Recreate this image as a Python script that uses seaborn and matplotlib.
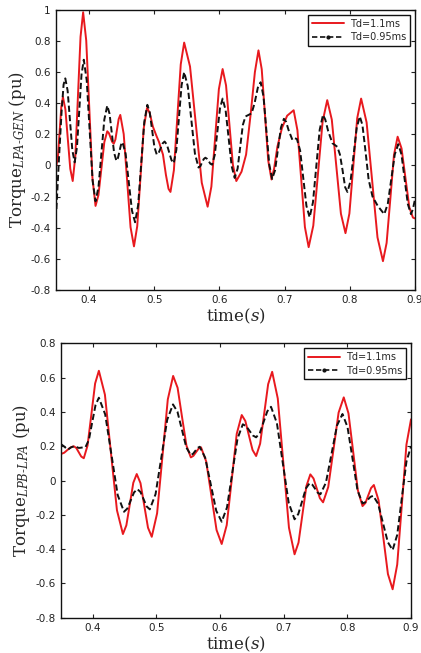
import numpy as np
import pandas as pd
import seaborn as sns
import matplotlib
matplotlib.use("Agg")
import matplotlib.pyplot as plt
from matplotlib.lines import Line2D
from matplotlib.ticker import FuncFormatter

# ---- data (time in s, torque in pu) ----
# upper panel: Torque LPA-GEN
top_red_t = [0.350, 0.3525, 0.355, 0.3575, 0.360, 0.36375, 0.3675, 0.37125, 0.375,
             0.379, 0.383, 0.387, 0.391, 0.39575, 0.4005, 0.40525, 0.410,
             0.4145, 0.419, 0.4235, 0.428, 0.4305, 0.433, 0.4355, 0.438,
             0.4405, 0.443, 0.4455, 0.448, 0.45325, 0.4585, 0.46375, 0.469,
             0.474, 0.479, 0.484, 0.489, 0.493, 0.498, 0.5035, 0.5075, 0.5135,
             0.518, 0.522, 0.525, 0.53025, 0.5355, 0.54075, 0.546,
             0.555, 0.564, 0.573, 0.582, 0.58775, 0.5935, 0.59925, 0.605,
             0.61025, 0.6155, 0.62075, 0.626, 0.634, 0.641, 0.648, 0.6545, 0.660,
             0.665, 0.670, 0.675, 0.680, 0.684, 0.689, 0.696, 0.704, 0.714,
             0.71975, 0.7255, 0.73125, 0.737, 0.7441, 0.7513, 0.7584, 0.7655,
             0.7725, 0.7795, 0.7865, 0.7935, 0.7995, 0.8055, 0.8115, 0.8175,
             0.8259, 0.8343, 0.8426, 0.851, 0.8566, 0.8623, 0.8679, 0.8735,
             0.8795, 0.8855, 0.8915, 0.897, 0.900]
top_red_v = [0.00, 0.064, 0.22, 0.376, 0.44, 0.361, 0.17, -0.021, -0.10,
             0.058, 0.4425, 0.827, 0.985, 0.803, 0.3625, -0.078, -0.26,
             -0.19, -0.02, 0.15, 0.22, 0.208, 0.18, 0.152, 0.14,
             0.167, 0.2325, 0.298, 0.325, 0.202, -0.0975, -0.397, -0.52,
             -0.39, -0.075, 0.24, 0.37, 0.34, 0.25, 0.19, 0.15, 0.07,
             -0.06, -0.15, -0.17, -0.03, 0.31, 0.65, 0.79,
             0.636, 0.2625, -0.111, -0.265, -0.136, 0.1775, 0.491, 0.62,
             0.515, 0.26, 0.005, -0.10, -0.04, 0.07, 0.33, 0.60, 0.74,
             0.619, 0.325, 0.031, -0.09, -0.02, 0.12, 0.24, 0.32, 0.355,
             0.227, -0.085, -0.396, -0.525, -0.387, -0.0525, 0.282, 0.42,
             0.295, -0.0075, -0.31, -0.435, -0.309, -0.0025, 0.304, 0.43,
             0.277, -0.0925, -0.462, -0.615, -0.498, -0.215, 0.068, 0.185,
             0.11, -0.08, -0.27, -0.335, -0.34]

top_blk_t = [0.350, 0.354, 0.358, 0.361, 0.3636, 0.3672, 0.3708, 0.3744, 0.378,
             0.3815, 0.385, 0.3885, 0.392, 0.3965, 0.401, 0.4055, 0.410,
             0.4145, 0.419, 0.4235, 0.428, 0.4315, 0.435, 0.4385, 0.442,
             0.4444, 0.4467, 0.449, 0.4514, 0.4562, 0.4611, 0.4659, 0.4707,
             0.4754, 0.4801, 0.4848, 0.4895, 0.4931, 0.4968, 0.5004, 0.504,
             0.507, 0.510, 0.513, 0.516, 0.5195, 0.523, 0.5265, 0.530,
             0.534, 0.538, 0.542, 0.546, 0.5515, 0.557, 0.5625, 0.568,
             0.571, 0.5733, 0.576, 0.5785, 0.581, 0.5837, 0.586, 0.5888,
             0.5929, 0.5969, 0.601, 0.605, 0.6096, 0.6143, 0.6189, 0.6235,
             0.628, 0.632, 0.636, 0.640, 0.6495, 0.654, 0.659, 0.6633,
             0.6677, 0.6722, 0.6766, 0.681, 0.6855, 0.690, 0.6945, 0.699,
             0.7025, 0.706, 0.712, 0.716, 0.719, 0.7239, 0.7288, 0.7336, 0.7385,
             0.7436, 0.7488, 0.7539, 0.759, 0.7625, 0.767, 0.7735, 0.781,
             0.785, 0.789, 0.793, 0.7965, 0.8013, 0.806, 0.8108, 0.8155,
             0.8195, 0.824, 0.829, 0.835, 0.843, 0.853, 0.8584, 0.8638, 0.8691,
             0.8745, 0.8794, 0.8843, 0.8891, 0.894, 0.897, 0.900]
top_blk_v = [-0.28, 0.05, 0.35, 0.52, 0.56, 0.481, 0.29, 0.099, 0.02,
             0.116, 0.35, 0.584, 0.68, 0.547, 0.225, -0.097, -0.23,
             -0.14, 0.0775, 0.295, 0.385, 0.333, 0.2075, 0.082, 0.03,
             0.048, 0.09, 0.132, 0.15, 0.075, -0.1075, -0.29, -0.365,
             -0.255, 0.0125, 0.28, 0.39, 0.343, 0.23, 0.117, 0.07,
             0.082, 0.112, 0.142, 0.154, 0.134, 0.0845, 0.035, 0.015,
             0.10, 0.3075, 0.515, 0.60, 0.51, 0.2935, 0.077, -0.013,
             -0.004, 0.019, 0.041, 0.05, 0.043, 0.028, 0.012, 0.005,
             0.067, 0.2175, 0.368, 0.43, 0.355, 0.175, -0.005, -0.08,
             -0.02, 0.12, 0.26, 0.315, 0.335, 0.40, 0.50, 0.535,
             0.444, 0.2245, 0.005, -0.086, -0.03, 0.107, 0.244, 0.30,
             0.28, 0.23, 0.165, 0.175, 0.17, 0.097, -0.0815, -0.26, -0.333,
             -0.237, -0.004, 0.229, 0.325, 0.295, 0.22, 0.143, 0.12,
             0.07, -0.03, -0.14, -0.17, -0.099, 0.0725, 0.244, 0.315,
             0.26, 0.10, -0.09, -0.20, -0.26, -0.313, -0.247, -0.088, 0.071,
             0.137, 0.071, -0.088, -0.247, -0.313, -0.28, -0.22]

# lower panel: Torque LPB-LPA
bot_red_t = [0.350, 0.355, 0.360, 0.365, 0.370, 0.374, 0.3779, 0.3818, 0.3858,
             0.3917, 0.3977, 0.4036, 0.4095, 0.419, 0.4284, 0.4379, 0.4473,
             0.4527, 0.4582, 0.4636, 0.469, 0.4749, 0.4808, 0.4867, 0.4926,
             0.501, 0.5094, 0.5178, 0.5262, 0.5332, 0.5401, 0.5471, 0.554,
             0.558, 0.562, 0.566, 0.570, 0.5781, 0.5863, 0.5944, 0.6025,
             0.6104, 0.6183, 0.6261, 0.634, 0.6397, 0.6453, 0.651, 0.6566,
             0.6629, 0.6692, 0.6755, 0.6818, 0.6906, 0.6994, 0.7082, 0.717,
             0.7232, 0.7294, 0.7356, 0.7418, 0.7468, 0.7518, 0.7568, 0.7618,
             0.7699, 0.7781, 0.7862, 0.7943, 0.8017, 0.8091, 0.8164, 0.8238,
             0.8283, 0.8327, 0.8372, 0.8416, 0.849, 0.8564, 0.8637, 0.8711,
             0.8783, 0.8856, 0.8928, 0.900]
bot_red_v = [0.155, 0.162, 0.178, 0.193, 0.20, 0.19, 0.165, 0.14, 0.13,
             0.204, 0.385, 0.566, 0.64, 0.501, 0.164, -0.173, -0.312,
             -0.261, -0.137, -0.013, 0.038, -0.015, -0.145, -0.275, -0.328,
             -0.191, 0.141, 0.473, 0.61, 0.541, 0.3725, 0.204, 0.135,
             0.144, 0.1645, 0.185, 0.194, 0.112, -0.088, -0.288, -0.37,
             -0.26, 0.006, 0.272, 0.382, 0.347, 0.2625, 0.178, 0.143,
             0.215, 0.3885, 0.562, 0.634, 0.479, 0.102, -0.275, -0.43,
             -0.362, -0.197, -0.032, 0.036, 0.012, -0.0455, -0.103, -0.127,
             -0.038, 0.179, 0.396, 0.485, 0.392, 0.168, -0.056, -0.149,
             -0.131, -0.0875, -0.044, -0.026, -0.115, -0.33, -0.545, -0.634,
             -0.49, -0.14, 0.21, 0.357]

bot_blk_t = [0.350, 0.3545, 0.3605, 0.3665, 0.3715, 0.378, 0.3885,
             0.3938, 0.399, 0.4043, 0.4095, 0.4194, 0.4293, 0.4391, 0.449,
             0.4543, 0.4595, 0.4648, 0.470, 0.4749, 0.4798, 0.4846, 0.4895,
             0.4986, 0.5078, 0.5169, 0.526, 0.533, 0.540, 0.547, 0.554,
             0.5575, 0.561, 0.5645, 0.568, 0.5766, 0.5853, 0.5939, 0.6025,
             0.6108, 0.6191, 0.6274, 0.6357, 0.6409, 0.6462, 0.6514, 0.6566,
             0.6625, 0.6683, 0.6742, 0.680, 0.6893, 0.6985, 0.7078, 0.717,
             0.7229, 0.7289, 0.7348, 0.7407, 0.7449, 0.7492, 0.7534, 0.7576,
             0.7663, 0.775, 0.7836, 0.7923, 0.8002, 0.8081, 0.8159, 0.8238,
             0.828, 0.8322, 0.8364, 0.8406, 0.8482, 0.8559, 0.8635, 0.8711,
             0.8783, 0.8856, 0.8928, 0.900]
bot_blk_v = [0.212, 0.20, 0.18, 0.195, 0.20, 0.19, 0.195,
             0.237, 0.339, 0.441, 0.483, 0.386, 0.1505, -0.085, -0.182,
             -0.163, -0.116, -0.069, -0.05, -0.067, -0.109, -0.151, -0.168,
             -0.079, 0.138, 0.355, 0.444, 0.401, 0.2965, 0.192, 0.149,
             0.156, 0.173, 0.19, 0.197, 0.133, -0.0215, -0.176, -0.24,
             -0.157, 0.044, 0.245, 0.328, 0.317, 0.29, 0.263, 0.252,
             0.278, 0.341, 0.404, 0.43, 0.334, 0.102, -0.13, -0.226,
             -0.195, -0.1205, -0.046, -0.015, -0.024, -0.0475, -0.071, -0.08,
             -0.012, 0.154, 0.32, 0.388, 0.312, 0.1275, -0.057, -0.133,
             -0.127, -0.111, -0.095, -0.089, -0.135, -0.247, -0.359, -0.405,
             -0.317, -0.10, 0.11, 0.20]

labels = ["Td=1.1ms", "Td=0.95ms"]
x_ticks = [0.4, 0.5, 0.6, 0.7, 0.8, 0.9]

RED = "#e8191e"
BLK = "#111111"

sns.set_style("ticks")
plt.rcParams["font.family"] = ["DejaVu Sans"]
plt.rcParams["axes.unicode_minus"] = False
plt.rcParams["mathtext.fontset"] = "dejavuserif"
plt.rcParams["xtick.direction"] = "in"
plt.rcParams["ytick.direction"] = "in"
plt.rcParams["lines.solid_joinstyle"] = "round"
plt.rcParams["lines.dash_joinstyle"] = "round"


def make_df(rt, rv, bt, bv):
    a = pd.DataFrame({"t": rt, "v": rv, "series": labels[0]})
    b = pd.DataFrame({"t": bt, "v": bv, "series": labels[1]})
    return pd.concat([a, b], ignore_index=True)


def draw_panel(ax, df, ylim, yticks, ylabel):
    sns.lineplot(data=df, x="t", y="v", hue="series", style="series",
                 palette={labels[0]: RED, labels[1]: BLK},
                 dashes={labels[0]: "", labels[1]: (3.2, 1.6)},
                 estimator=None, sort=False, linewidth=1.4, ax=ax, legend=False)
    ax.set_xlim(0.35, 0.9)
    ax.set_ylim(*ylim)
    ax.set_xticks(x_ticks)
    ax.set_yticks(yticks)
    fmt = FuncFormatter(lambda val, pos: "{:g}".format(round(val, 2)))
    ax.xaxis.set_major_formatter(fmt)
    ax.yaxis.set_major_formatter(fmt)
    ax.tick_params(axis="both", labelsize=7.5, length=3, width=0.8,
                   top=True, right=True, colors="#222222", pad=4)
    for sp in ax.spines.values():
        sp.set_visible(True)
        sp.set_color("#111111")
        sp.set_linewidth(1.0)
    ax.set_xlabel(r"time($s$)", family="DejaVu Serif", fontsize=12, labelpad=1)
    ax.set_ylabel(ylabel, family="DejaVu Serif", fontsize=12, labelpad=2)
    handles = [Line2D([], [], color=RED, lw=1.4),
               Line2D([], [], color=BLK, lw=1.2, ls=(0, (3.2, 1.6)),
                      marker=".", markersize=4)]
    leg = ax.legend(handles, labels, loc="upper right", fontsize=7,
                    frameon=True, fancybox=False, edgecolor="#111111",
                    framealpha=1, handlelength=3.3, borderaxespad=0.5,
                    handletextpad=0.6, labelspacing=0.35, borderpad=0.4)
    leg.get_frame().set_linewidth(1.0)


fig = plt.figure(figsize=(4.21, 6.53), dpi=100)
ax1 = fig.add_axes([0.134, 0.556, 0.8515, 0.4288])
ax2 = fig.add_axes([0.1449, 0.054, 0.8314, 0.4202])

draw_panel(ax1, make_df(top_red_t, top_red_v, top_blk_t, top_blk_v),
           (-0.8, 1.0), [-0.8, -0.6, -0.4, -0.2, 0, 0.2, 0.4, 0.6, 0.8, 1.0],
           r"Torque$_{LPA\text{-}GEN}$ (pu)")
draw_panel(ax2, make_df(bot_red_t, bot_red_v, bot_blk_t, bot_blk_v),
           (-0.8, 0.8), [-0.8, -0.6, -0.4, -0.2, 0, 0.2, 0.4, 0.6, 0.8],
           r"Torque$_{LPB\text{-}LPA}$ (pu)")

fig.savefig("out.png", dpi=100)
